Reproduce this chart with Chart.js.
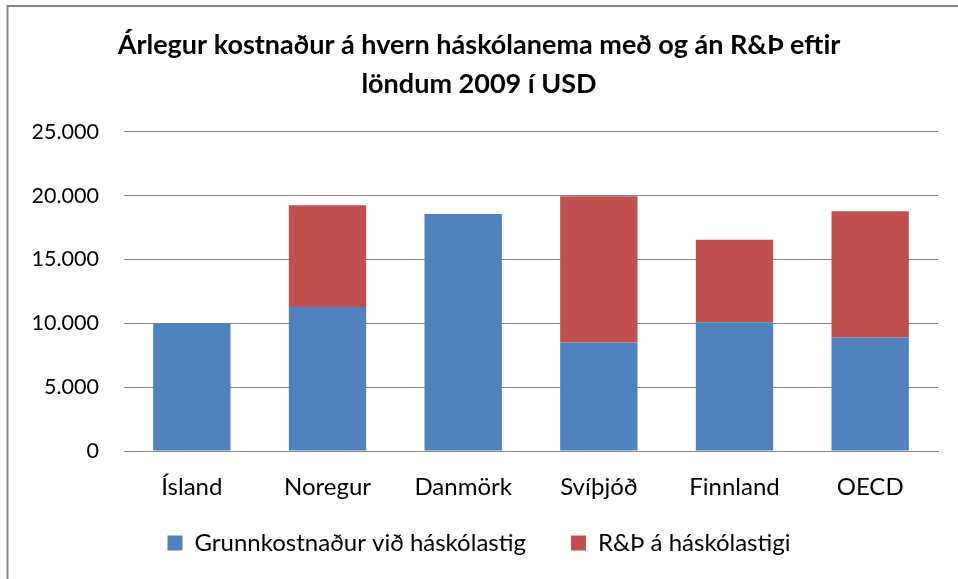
<!DOCTYPE html>
<html>
<head>
<meta charset="utf-8">
<script src="https://cdn.jsdelivr.net/npm/chart.js@4/dist/chart.umd.min.js"></script>
<style>
html,body{margin:0;padding:0;background:#fff;}
#wrap{position:relative;width:958px;height:579px;}
</style>
</head>
<body>
<div id="wrap"><canvas id="c" width="958" height="579"></canvas></div>
<script>
const categories = ["Ísland", "Noregur", "Danmörk", "Svíþjóð", "Finnland", "OECD"];
const baseCost = [10000, 11280, 18550, 8490, 10080, 8880];
const rdCost = [0, 7970, 0, 11460, 6460, 9900];
const seriesNames = ["Grunnkostnaður við háskólastig", "R&Þ á háskólastigi"];
const titleLines = ["Árlegur kostnaður á hvern háskólanema með og án R&Þ eftir", "löndum 2009 í USD"];

const FONT = "Lato, 'Open Sans', sans-serif";

const framePlugin = {
  id: 'frame',
  afterLayout(chart) {
    // let the category labels draw below the (shortened) x-axis box without clipping
    const xs = chart.scales.x;
    if (xs) xs._computeLabelArea = function () { return undefined; };
  },
  afterDraw(chart) {
    const ctx = chart.ctx;
    ctx.save();
    ctx.strokeStyle = '#878787';
    ctx.lineWidth = 2;
    ctx.beginPath();
    ctx.moveTo(958, 6);
    ctx.lineTo(7.5, 6);
    ctx.lineTo(7.5, 579);
    ctx.stroke();
    ctx.restore();
  }
};

new Chart(document.getElementById('c'), {
  type: 'bar',
  data: {
    labels: categories,
    datasets: [
      { label: seriesNames[0], data: baseCost, backgroundColor: '#4F81BD', categoryPercentage: 0.57, barPercentage: 1.0 },
      { label: seriesNames[1], data: rdCost, backgroundColor: '#C0504D', categoryPercentage: 0.57, barPercentage: 1.0 }
    ]
  },
  options: {
    responsive: false,
    animation: false,
    devicePixelRatio: 1,
    layout: { padding: { left: 20, right: 20, top: 16, bottom: 14 } },
    scales: {
      x: {
        stacked: true,
        grid: { display: false, drawTicks: false },
        border: { display: true, color: '#868686', width: 1 },
        ticks: { color: '#000', font: { family: FONT, size: 24 }, padding: 22 },
        afterFit(scale) { scale.height = 35; }
      },
      y: {
        stacked: true,
        min: 0, max: 25000,
        grid: { color: '#868686', lineWidth: 1, drawTicks: false },
        border: { display: false },
        ticks: {
          stepSize: 5000, color: '#000', font: { family: FONT, size: 21.5 }, padding: 25,
          callback: v => v === 0 ? '0' : v.toLocaleString('de-DE')
        },
        afterFit(scale) { scale.width = 104; }
      }
    },
    plugins: {
      title: {
        display: true, text: titleLines, color: '#000',
        font: { family: FONT, size: 27, weight: 'bold', lineHeight: 1.44 },
        padding: { top: 10, bottom: 28 }
      },
      legend: {
        position: 'bottom',
        labels: { color: '#000', font: { family: FONT, size: 24 }, boxWidth: 15, boxHeight: 15, padding: 45 }
      },
      tooltip: { enabled: false }
    }
  },
  plugins: [framePlugin]
});
</script>
</body>
</html>
